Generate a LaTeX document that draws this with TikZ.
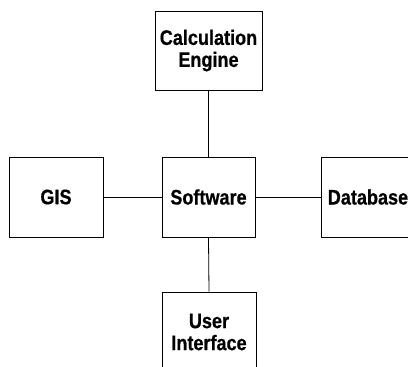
\documentclass[tikz,border=0pt]{standalone}
\usepackage{fontspec}
\setmainfont{Liberation Sans}
\newfontfamily\blocklabel[FakeStretch=0.86, BoldFeatures={FakeBold=0.6}]{Liberation Sans}
\begin{document}
\begin{tikzpicture}[x=1pt,y=1pt,
  box/.style={draw, line width=0.8pt, fill=white, align=center,
    font=\blocklabel\fontsize{21}{22}\selectfont\bfseries, inner sep=0pt},
  link/.style={draw, line width=0.8pt}]
\useasboundingbox (0,0) rectangle (408,367);
\clip (0,0) rectangle (408,367);
% blocks
\node[box, minimum width=107, minimum height=79] (calc) at (208.5,316.5) {Calculation\\Engine};
\node[box, minimum width=93, minimum height=80] (soft) at (208.5,170) {Software};
\node[box, minimum width=94, minimum height=80] (gis) at (56,170) {GIS};
\node[box, minimum width=94, minimum height=80] (db) at (368,170) {Database};
\node[box, minimum width=94, minimum height=80] (ui) at (209,35) {User\\Interface};
% connections to the central block
\path[link] (calc.south) -- (soft.north);
\path[link] (gis.east) -- (soft.west);
\path[link] (soft.east) -- (db.west);
\path[link] (soft.south) -- (ui.north);
\end{tikzpicture}
\end{document}
